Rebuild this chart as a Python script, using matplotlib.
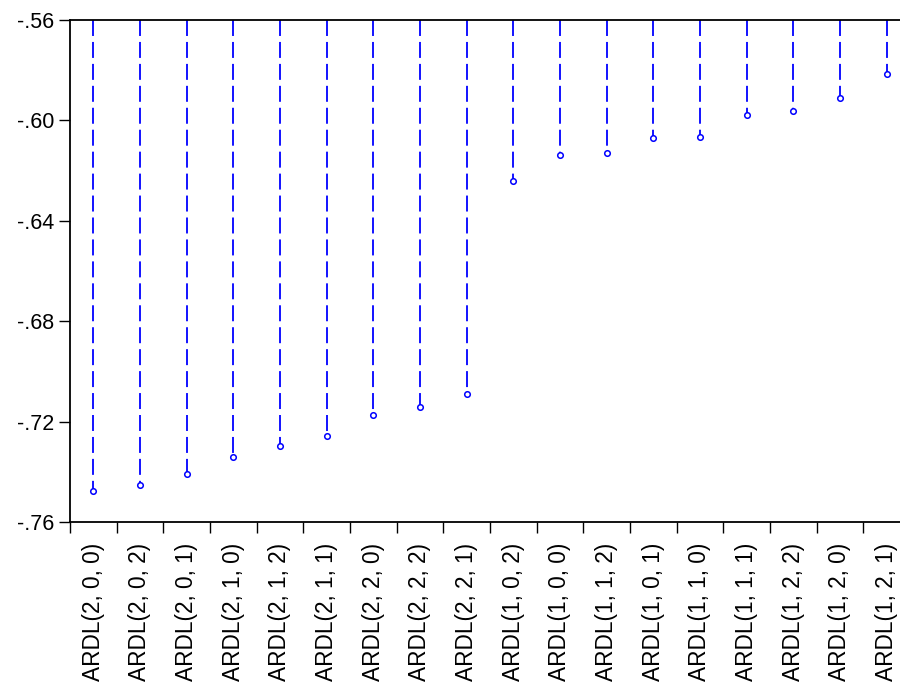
import matplotlib
matplotlib.use("Agg")
import matplotlib.pyplot as plt
import numpy as np

plt.rcParams['font.family'] = ['Liberation Sans', 'DejaVu Sans']
plt.rcParams['lines.scale_dashes'] = False

models = ["ARDL(2, 0, 0)", "ARDL(2, 0, 2)", "ARDL(2, 0, 1)", "ARDL(2, 1, 0)",
          "ARDL(2, 1, 2)", "ARDL(2, 1, 1)", "ARDL(2, 2, 0)", "ARDL(2, 2, 2)",
          "ARDL(2, 2, 1)", "ARDL(1, 0, 2)", "ARDL(1, 0, 0)", "ARDL(1, 1, 2)",
          "ARDL(1, 0, 1)", "ARDL(1, 1, 0)", "ARDL(1, 1, 1)", "ARDL(1, 2, 2)",
          "ARDL(1, 2, 0)", "ARDL(1, 2, 1)"]
criteria = [-0.7478, -0.7454, -0.7408, -0.7343, -0.7299, -0.7258, -0.7175,
            -0.7143, -0.7091, -0.6240, -0.6137, -0.6130, -0.6069, -0.6068,
            -0.5977, -0.5962, -0.5909, -0.5815]
yticks = [-0.76, -0.72, -0.68, -0.64, -0.60, -0.56]
ytick_labels = ["-.76", "-.72", "-.68", "-.64", "-.60", "-.56"]
y_top = -0.56

fig = plt.figure(figsize=(9, 6.88), dpi=100)
# axes runs to the right edge of the picture (chart is cut off there)
ax = fig.add_axes([70/900, 1 - 522/688, 830/900, 502/688])

x = np.arange(len(models))
for xi, v in zip(x, criteria):
    ax.plot([xi, xi], [y_top, v], color='#0000FF', lw=1.3,
            linestyle=(0, (11.5, 4.3)), solid_capstyle='butt', dash_capstyle='butt')
ax.plot(x, criteria, linestyle='none', marker='o', markersize=4,
        markerfacecolor='white', markeredgecolor='#0000FF', markeredgewidth=1.1)

ax.set_xlim(-0.5, len(models) - 0.5 - 10/46.67)
ax.set_ylim(-0.76, -0.56)
ax.set_yticks(yticks)
ax.set_yticklabels(ytick_labels, fontsize=15.5)
ax.tick_params(axis='y', direction='out', length=8, width=1, pad=3.5)

ax.set_xticks(np.arange(len(models)) - 0.5)
ax.set_xticklabels([])
ax.tick_params(axis='x', which='major', direction='out', length=8, width=1)
ax.set_xticks(x, minor=True)
ax.set_xticklabels(models, minor=True, rotation=90, fontsize=16.3)
ax.tick_params(axis='x', which='minor', length=0, pad=15)

for s in ['left', 'bottom', 'top']:
    ax.spines[s].set_linewidth(1.3)
    ax.spines[s].set_color('black')
ax.spines['right'].set_visible(False)

fig.savefig('out.png', dpi=100)
